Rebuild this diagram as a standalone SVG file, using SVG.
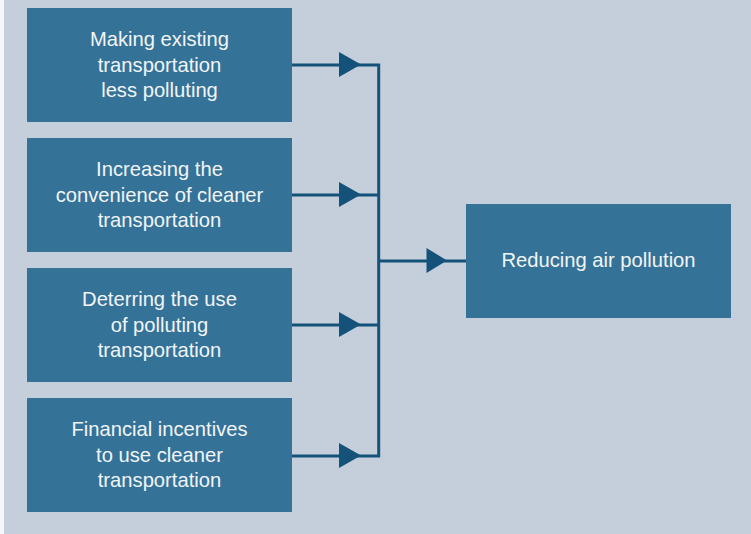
<svg xmlns="http://www.w3.org/2000/svg" width="751" height="534" viewBox="0 0 751 534">
<style>
.box{fill:#357297}
.t{font-family:"Liberation Sans",Arial,sans-serif;font-size:20.2px;fill:#f2f5f8;text-anchor:middle}
.ln{stroke:#14527a;stroke-width:3;fill:none}
.ah{fill:#14527a}
</style>
<rect x="0" y="0" width="751" height="534" fill="#c5cfdb"/>
<rect x="0" y="0" width="4" height="534" fill="#f4f6f8"/>
<g id="connectors">
<path class="ln" d="M292 65H378.7V456H292M292 195H378.7M292 325H378.7M378.7 261H466"/>
<polygon class="ah" points="339,52 361,64.5 339,77"/>
<polygon class="ah" points="339,182 361,194.5 339,207"/>
<polygon class="ah" points="339,312 361,324.5 339,337"/>
<polygon class="ah" points="339,443 361,455.5 339,468"/>
<polygon class="ah" points="426.5,248 447,260.5 426.5,273"/>
</g>
<g id="n1"><rect class="box" x="27" y="8" width="265" height="114"/>
<text class="t" x="159.5" y="46">Making existing</text><text class="t" x="159.5" y="71.5">transportation</text><text class="t" x="159.5" y="97">less polluting</text></g>
<g id="n2"><rect class="box" x="27" y="138" width="265" height="114"/>
<text class="t" x="159.5" y="176">Increasing the</text><text class="t" x="159.5" y="201.5">convenience of cleaner</text><text class="t" x="159.5" y="227">transportation</text></g>
<g id="n3"><rect class="box" x="27" y="268" width="265" height="114"/>
<text class="t" x="159.5" y="306">Deterring the use</text><text class="t" x="159.5" y="331.5">of polluting</text><text class="t" x="159.5" y="357">transportation</text></g>
<g id="n4"><rect class="box" x="27" y="398" width="265" height="114"/>
<text class="t" x="159.5" y="436">Financial incentives</text><text class="t" x="159.5" y="461.5">to use cleaner</text><text class="t" x="159.5" y="487">transportation</text></g>
<g id="n5"><rect class="box" x="466" y="204" width="265" height="114"/>
<text class="t" x="598.5" y="267">Reducing air pollution</text></g>
</svg>
